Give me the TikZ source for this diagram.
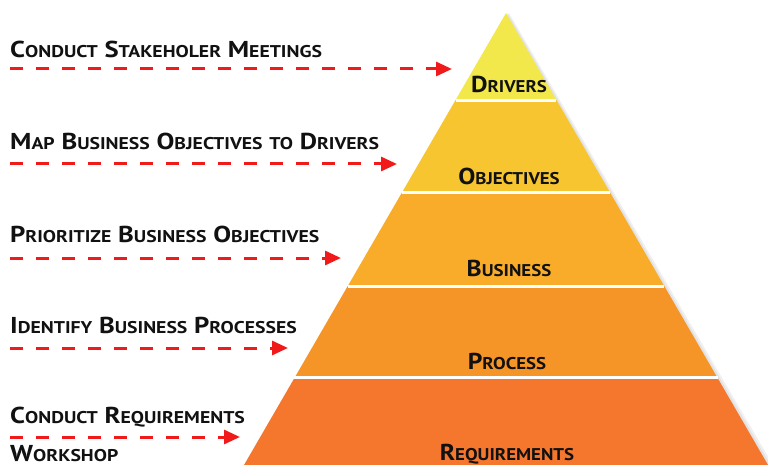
\documentclass[tikz,border=0pt]{standalone}
\usepackage{fontspec}
\setmainfont{PT Sans}
\newfontfamily\stepfont{PT Sans}[FakeStretch=1.16]
\newfontfamily\layerfont{PT Sans}[FakeStretch=1.11]
\usepackage{xcolor}
\usetikzlibrary{arrows.meta,calc,positioning}

\definecolor{drivers}{HTML}{F2E84B}
\definecolor{objectives}{HTML}{F7C52F}
\definecolor{business}{HTML}{F9AC2A}
\definecolor{process}{HTML}{F69527}
\definecolor{requirements}{HTML}{F5762D}
\definecolor{arrowred}{HTML}{F01A1A}
\definecolor{textdark}{HTML}{111111}

% fake small caps: capital letters at full size, the rest smaller
\newcommand\smc[1]{{\fontsize{17}{20}\selectfont #1}}

\begin{document}
\begin{tikzpicture}[
  x=1pt, y=-1pt,
  steplabel/.style  = {anchor=base west,
                       inner sep=0pt,
                       text=textdark,
                       font=\stepfont\fontsize{23}{27}\selectfont\bfseries},
  layerlabel/.style = {anchor=base,
                       inner sep=0pt,
                       text=textdark,
                       font=\layerfont\fontsize{23}{27}\selectfont\bfseries},
  dasharrow/.style  = {draw=arrowred,
                       line width=3pt,
                       dash pattern=on 13pt off 13pt,
                       -{Triangle[length=16pt,width=14pt]}},
  divider/.style    = {draw=white, line width=3pt}
]
\useasboundingbox (0,0) rectangle (768,465);

% pyramid corners
\coordinate (apex) at (506,13);
\coordinate (bl)   at (244,465);
\coordinate (br)   at (768,465);

% soft shadow on the right
\fill[black, opacity=0.06] ($(apex)+(3,0)$) -- ($(br)+(5,0)$) -- ($(bl)+(5,0)$) -- cycle;
\fill[black, opacity=0.06] ($(apex)+(1.5,0)$) -- ($(br)+(2.5,0)$) -- ($(bl)+(2.5,0)$) -- cycle;

% layers
\fill[drivers]      (apex) -- ($(apex)!0.1925!(br)$) -- ($(apex)!0.1925!(bl)$) -- cycle;
\fill[objectives]   ($(apex)!0.1925!(bl)$) -- ($(apex)!0.1925!(br)$) -- ($(apex)!0.3982!(br)$) -- ($(apex)!0.3982!(bl)$) -- cycle;
\fill[business]     ($(apex)!0.3982!(bl)$) -- ($(apex)!0.3982!(br)$) -- ($(apex)!0.6040!(br)$) -- ($(apex)!0.6040!(bl)$) -- cycle;
\fill[process]      ($(apex)!0.6040!(bl)$) -- ($(apex)!0.6040!(br)$) -- ($(apex)!0.8075!(br)$) -- ($(apex)!0.8075!(bl)$) -- cycle;
\fill[requirements] ($(apex)!0.8075!(bl)$) -- ($(apex)!0.8075!(br)$) -- (br) -- (bl) -- cycle;

% white dividers
\draw[divider] ($(apex)!0.1925!(bl)$) -- ($(apex)!0.1925!(br)$);
\draw[divider] ($(apex)!0.3982!(bl)$) -- ($(apex)!0.3982!(br)$);
\draw[divider] ($(apex)!0.6040!(bl)$) -- ($(apex)!0.6040!(br)$);
\draw[divider] ($(apex)!0.8075!(bl)$) -- ($(apex)!0.8075!(br)$);

% layer names
\node[layerlabel] (drv) at (509,93)  {D\smc{RIVERS}};
\node[layerlabel] (obj) at (509,185) {O\smc{BJECTIVES}};
\node[layerlabel] (bus) at (509,276) {B\smc{USINESS}};
\node[layerlabel] (pro) at (507,369) {P\smc{ROCESS}};
\node[layerlabel] (req) at (507,460) {R\smc{EQUIREMENTS}};

% steps on the left
\node[steplabel] (meet) at (10,58)  {C\smc{ONDUCT} S\smc{TAKEHOLER} M\smc{EETINGS}};
\node[steplabel] (map)  at (10,150) {M\smc{AP} B\smc{USINESS} O\smc{BJECTIVES} \smc{TO} D\smc{RIVERS}};
\node[steplabel] (prio) at (10,242) {P\smc{RIORITIZE} B\smc{USINESS} O\smc{BJECTIVES}};
\node[steplabel] (iden) at (10,333) {I\smc{DENTIFY} B\smc{USINESS} P\smc{ROCESSES}};
\node[steplabel] (cond) at (10,423) {C\smc{ONDUCT} R\smc{EQUIREMENTS}};
\node[steplabel] (work) at (10,461) {W\smc{ORKSHOP}};

% arrow ends
\coordinate (meetS) at (10,69);   \coordinate (meetE) at (452,69);
\coordinate (mapS)  at (10,164);  \coordinate (mapE)  at (397,164);
\coordinate (prioS) at (10,258);  \coordinate (prioE) at (341,258);
\coordinate (idenS) at (10,348);  \coordinate (idenE) at (288,348);
\coordinate (condS) at (10,437);  \coordinate (condE) at (240,437);

\draw[dasharrow] (meetS) -- (meetE);
\draw[dasharrow] (mapS)  -- (mapE);
\draw[dasharrow] (prioS) -- (prioE);
\draw[dasharrow] (idenS) -- (idenE);
\draw[dasharrow] (condS) -- (condE);

\end{tikzpicture}
\end{document}
